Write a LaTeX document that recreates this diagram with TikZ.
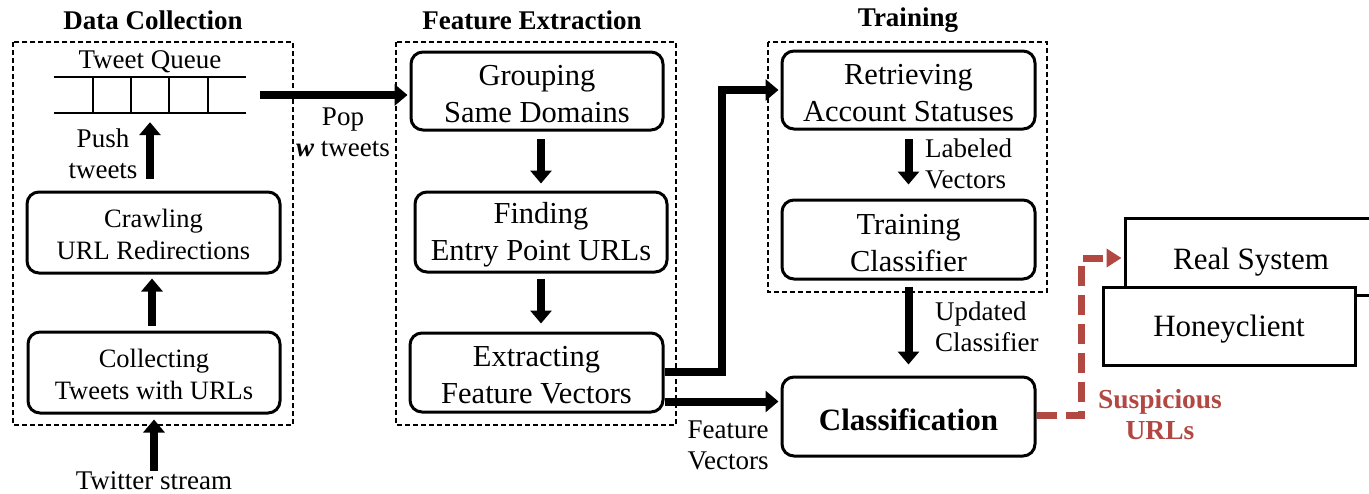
\documentclass[tikz,border=0pt]{standalone}
\usepackage{fontspec}
\setmainfont{Liberation Serif}
\usetikzlibrary{arrows.meta}
\definecolor{susred}{RGB}{178,72,66}
\begin{document}
\begin{tikzpicture}[x=1pt,y=-1pt,
  box/.style={draw, line width=3pt, rounded corners=12pt, inner sep=0pt},
  btxt/.style={align=center, inner sep=0pt, font=\fontsize{30.5}{37}\selectfont},
  stxt/.style={align=center, inner sep=0pt, font=\fontsize{26.5}{32}\selectfont},
  sqbox/.style={draw, line width=3pt, fill=white, inner sep=0pt, minimum width=252pt},
  grpbox/.style={draw, line width=1.4pt, dash pattern=on 5pt off 3pt},
  title/.style={inner sep=0pt, font=\fontsize{27}{32}\selectfont\bfseries},
  lab/.style={align=center, inner sep=0pt, font=\fontsize{27}{31}\selectfont},
  arr/.style={line width=8pt, -{Triangle[width=21pt,length=13pt]}},
  redarr/.style={draw=susred, line width=7pt, dash pattern=on 20pt off 9pt, -{Triangle[width=18pt,length=15pt]}, susred}
]
\clip (0,0) rectangle (1369,493);

% group frames
\draw[grpbox] (13,42) rectangle (293,425);
\draw[grpbox] (396,42) rectangle (676,425);
\draw[grpbox] (768,42) rectangle (1047,292);
\node[title] (t1) at (153,20) {Data Collection};
\node[title] (t2) at (532,20) {Feature Extraction};
\node[title] (t3) at (908,20) {Training};

% tweet queue
\node[lab] (tq) at (150,62) {Tweet Queue};
\node[minimum width=192pt, minimum height=36pt, inner sep=0pt] (queue) at (150,95) {};
\draw[line width=1.8pt] (queue.north west) -- (queue.north east);
\draw[line width=1.8pt] (queue.south west) -- (queue.south east);
\foreach \x in {93,131,169,208} \draw[line width=1.8pt] (\x,77) -- (\x,113);

% data collection boxes
\node[box, minimum width=253pt, minimum height=81pt] (crawl) at (153.5,232.5) {};
\node[stxt] (crawlT) at ([yshift=-2pt]crawl.center) {Crawling\\URL Redirections};
\node[box, minimum width=252pt, minimum height=81pt] (collect) at (154,372.5) {};
\node[stxt] (collectT) at ([yshift=-1.5pt]collect.center) {Collecting\\Tweets with URLs};
\node[lab] (tw) at (154,481) {Twitter stream};
\node[lab] (push) at (103,154) {Push\\tweets};

% feature extraction boxes
\node[box, minimum width=252pt, minimum height=78pt] (group) at (537,91) {};
\node[btxt] (groupT) at ([yshift=-3.5pt]group.center) {Grouping\\Same Domains};
\node[box, minimum width=252pt, minimum height=80pt] (find) at (541,232) {};
\node[btxt] (findT) at ([yshift=-3pt]find.center) {Finding\\Entry Point URLs};
\node[box, minimum width=253pt, minimum height=79pt] (extract) at (536.5,372.5) {};
\node[btxt] (extractT) at ([yshift=-3pt]extract.center) {Extracting\\Feature Vectors};
\node[lab] (pop) at (343,132) {Pop\\{\bfseries\itshape w} tweets};

% training boxes
\node[box, minimum width=253pt, minimum height=78pt] (retrieve) at (908.5,90) {};
\node[btxt] (retrieveT) at ([yshift=-3.5pt]retrieve.center) {Retrieving\\Account Statuses};
\node[box, minimum width=253pt, minimum height=79pt] (trainc) at (908.5,239.5) {};
\node[btxt] (traincT) at ([yshift=-3.5pt]trainc.center) {Training\\Classifier};
\node[box, minimum width=253pt, minimum height=79pt] (classif) at (908.5,416.5) {};
\node[btxt, font=\fontsize{31}{35}\selectfont\bfseries] (classifT) at ([yshift=-3pt]classif.center) {Classification};
\node[lab, align=left, anchor=west] (labv) at (925,164) {Labeled\\Vectors};
\node[lab, align=left, anchor=west] (updc) at (935,327) {Updated\\Classifier};
\node[lab] (fvec) at (728,445) {Feature\\Vectors};

% real system / honeyclient
\node[sqbox, minimum height=77pt] (realsys) at (1251,256.5) {};
\node[btxt, font=\fontsize{31}{35}\selectfont] (realsysT) at ([yshift=-5.5pt]realsys.center) {Real System};
\node[sqbox, minimum height=78pt] (honey) at (1229,326) {};
\node[btxt, font=\fontsize{31}{35}\selectfont] (honeyT) at ([yshift=-3pt]honey.center) {Honeyclient};
\node[lab, font=\fontsize{27.5}{31}\selectfont\bfseries, text=susred] (susp) at (1160,415) {Suspicious\\URLs};

% arrows
\draw[arr, shorten <=12pt, shorten >=9pt] (crawl.north -| queue.south) -- (queue.south);
\draw[arr, shorten <=5pt, shorten >=4pt] (collect.north -| 152,0) -- (crawl.south -| 152,0);
\draw[arr, shorten <=1pt, shorten >=5pt] (tw.north) -- (collect.south);
\draw[arr, shorten <=14pt, shorten >=2pt] (queue.east) -- (queue.east -| group.west);
\draw[arr, shorten <=7pt, shorten >=7pt] (find.north |- group.south) -- (find.north);
\draw[arr, shorten <=5pt, shorten >=8pt] (find.south) -- (find.south |- extract.north);
\draw[arr, shorten >=2pt] ([yshift=1pt]extract.east) -| (722,90) -- (retrieve.west);
\draw[arr, shorten >=2pt] ([yshift=-29pt]extract.east) -- ([yshift=-29pt]extract.east -| classif.west);
\draw[arr, shorten <=8pt, shorten >=14pt] (retrieve.south) -- (trainc.north);
\draw[arr, shorten <=6pt, shorten >=11pt] (trainc.south) -- (classif.north);
\draw[redarr, shorten >=2pt] ([yshift=1.5pt]classif.east) -- ++(45,0) |- ([yshift=-1.5pt]realsys.west);
\end{tikzpicture}
\end{document}
